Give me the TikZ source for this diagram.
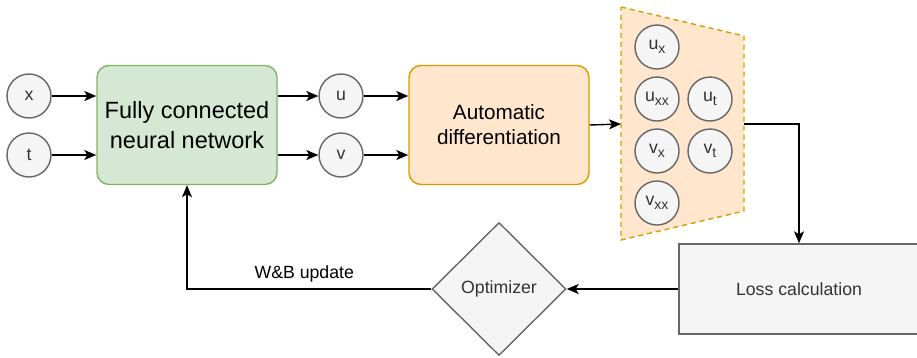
\documentclass[tikz,border=0pt]{standalone}
\usepackage{fontspec}
\setmainfont{Liberation Sans}
\usetikzlibrary{arrows.meta}
\usetikzlibrary{shapes.geometric}
\definecolor{gray1}{RGB}{102, 102, 102}
\definecolor{gray2}{RGB}{245, 245, 245}
\definecolor{text1}{RGB}{51, 51, 51}
\definecolor{green1}{RGB}{213, 232, 212}
\definecolor{green2}{RGB}{130, 179, 102}
\definecolor{orange1}{RGB}{255, 230, 204}
\definecolor{orange2}{RGB}{215, 155, 0}
\newcommand{\subtxt}[1]{\raisebox{-4pt}{\fontsize{14}{14}\selectfont #1}}

\begin{document}
\begin{tikzpicture}[x=1pt, y=-1pt, line width=1.4pt,
  var/.style={circle, draw=gray1, fill=gray2, text=text1, minimum size=44pt, inner sep=0pt, font=\fontsize{17.7}{20}\selectfont},
  block/.style={rectangle, rounded corners=12pt, minimum width=180pt, minimum height=119pt, align=center},
  arr/.style={-{Stealth[length=12pt,width=10pt,inset=3pt]}}]
  \useasboundingbox (0,0) rectangle (917,357);
  % inputs and outputs of the network
  \node[var] (x) at (29,96) {x};
  \node[var] (t) at (29,155) {t};
  \node[var] (u) at (341,96) {u};
  \node[var] (v) at (341,155) {v};
  \node[block, draw=green2, fill=green1, font=\fontsize{23.5}{30}\selectfont] (nn) at (187,125) {Fully connected\\neural network};
  \node[block, draw=orange2, fill=orange1, font=\fontsize{20.7}{25}\selectfont] (ad) at (499,125) {Automatic\\differentiation};
  % derivatives
  \draw[draw=orange2, fill=orange1, dash pattern=on 5pt off 4pt] (621,7) -- (744,36) -- (744,211) -- (621,240) -- cycle;
  \coordinate (d1) at (621,124);
  \coordinate (d2) at (744,124);
  \node[var] (ux) at (657,47) {u\subtxt{x}};
  \node[var] (uxx) at (657,99) {u\subtxt{xx}};
  \node[var] (ut) at (710,99) {u\subtxt{t}};
  \node[var] (vx) at (657,151) {v\subtxt{x}};
  \node[var] (vt) at (710,151) {v\subtxt{t}};
  \node[var] (vxx) at (657,203) {v\subtxt{xx}};
  \node[rectangle, draw=gray1, fill=gray2, text=text1, minimum width=240pt, minimum height=90pt, font=\fontsize{17.7}{20}\selectfont] (loss) at (799,289) {Loss calculation};
  \node[diamond, draw=gray1, fill=gray2, text=text1, minimum width=134pt, minimum height=133pt, inner sep=0pt, font=\fontsize{17.7}{20}\selectfont] (opt) at (499,289) {Optimizer};
  \foreach \from/\to in {x/nn, t/nn, u/ad, v/ad}
   \draw[arr] (\from.east) -- (\from -| \to.west);
  \foreach \from/\to in {nn/u, nn/v}
   \draw[arr] (\to -| \from.east) -- (\to.west);
  \draw[arr] (ad.east) -- (d1);
  \draw[arr] (d2) -| (loss.north);
  \draw[arr] (loss.west) -- (opt.east);
  \draw[arr] (opt.west) -| node[pos=0.26, above=3pt, font=\fontsize{17.7}{20}\selectfont]{W\&B update} (nn.south);
\end{tikzpicture}
\end{document}
